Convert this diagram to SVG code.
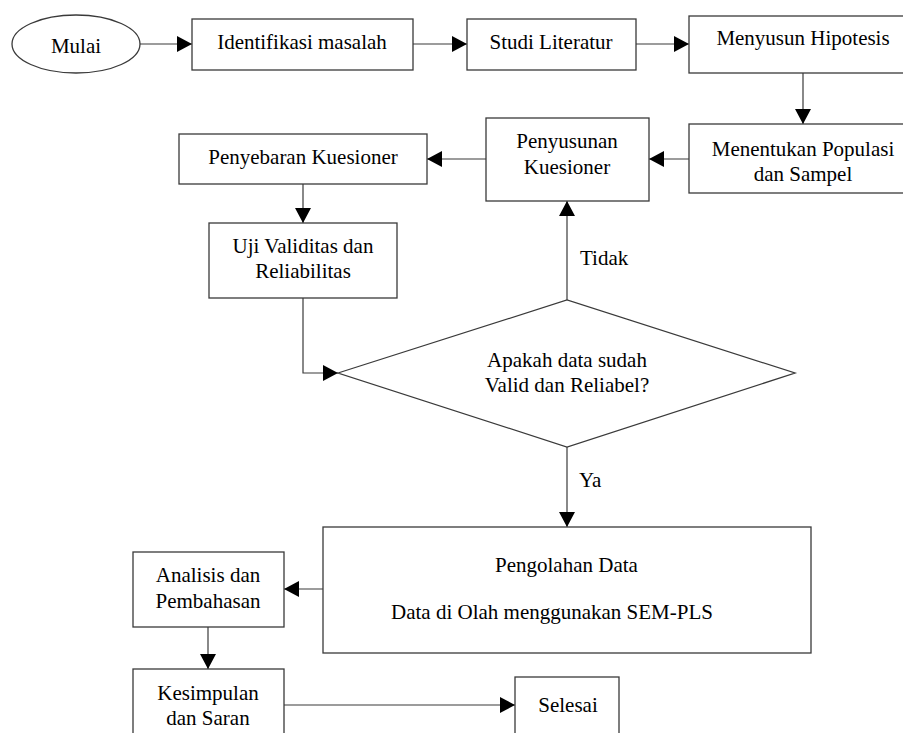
<svg xmlns="http://www.w3.org/2000/svg" width="903" height="733" viewBox="0 0 903 733">
<style>
.box{fill:#fff;stroke:#3a3a3a;stroke-width:1.3}
.t{font-family:'Liberation Serif','Times New Roman',Times,'DejaVu Serif',serif;font-size:21px;fill:#000}
.c{text-anchor:middle}
.ln{fill:none;stroke:#3a3a3a;stroke-width:1.2}
</style>
<defs>
<marker id="ah" markerUnits="userSpaceOnUse" markerWidth="16" markerHeight="16" refX="15" refY="8" orient="auto">
<path d="M0,0 L15,8 L0,16 z" fill="#000"/>
</marker>
</defs>
<rect width="903" height="733" fill="#fff"/>
<g font-family="Liberation Serif, Times New Roman, DejaVu Serif, serif">
<g id="connectors">
<line class="ln" x1="140" y1="44" x2="192" y2="44" marker-end="url(#ah)"/>
<line class="ln" x1="413" y1="44" x2="467" y2="44" marker-end="url(#ah)"/>
<line class="ln" x1="636" y1="44" x2="689" y2="44" marker-end="url(#ah)"/>
<line class="ln" x1="803" y1="73" x2="803" y2="124" marker-end="url(#ah)"/>
<line class="ln" x1="689" y1="159" x2="649" y2="159" marker-end="url(#ah)"/>
<line class="ln" x1="486" y1="159" x2="427" y2="159" marker-end="url(#ah)"/>
<line class="ln" x1="303" y1="184" x2="303" y2="223" marker-end="url(#ah)"/>
<polyline class="ln" points="303,298 303,373 338,373" marker-end="url(#ah)"/>
<line class="ln" x1="567" y1="300" x2="567" y2="201" marker-end="url(#ah)"/>
<line class="ln" x1="567" y1="447" x2="567" y2="527" marker-end="url(#ah)"/>
<line class="ln" x1="323" y1="589" x2="284" y2="589" marker-end="url(#ah)"/>
<line class="ln" x1="208" y1="627" x2="208" y2="669" marker-end="url(#ah)"/>
<line class="ln" x1="284" y1="705" x2="515" y2="705" marker-end="url(#ah)"/>
<text class="t" x="580" y="265">Tidak</text>
<text class="t" x="579" y="487">Ya</text>
</g>
<g id="mulai">
<ellipse class="box" cx="76" cy="44" rx="64" ry="29"/>
<text class="t c" x="76" y="53">Mulai</text>
</g>
<g id="identifikasi">
<rect class="box" x="192" y="19" width="221" height="51"/>
<text class="t c" x="302" y="49">Identifikasi masalah</text>
</g>
<g id="studi">
<rect class="box" x="467" y="19" width="169" height="51"/>
<text class="t c" x="551" y="49">Studi Literatur</text>
</g>
<g id="hipotesis">
<rect class="box" x="689" y="16" width="228" height="57"/>
<text class="t c" x="803" y="45">Menyusun Hipotesis</text>
</g>
<g id="populasi">
<rect class="box" x="689" y="124" width="228" height="69"/>
<text class="t c" x="803" y="156">Menentukan Populasi</text>
<text class="t c" x="803" y="181">dan Sampel</text>
</g>
<g id="penyusunan">
<rect class="box" x="486" y="118" width="163" height="83"/>
<text class="t c" x="567" y="148">Penyusunan</text>
<text class="t c" x="567" y="174">Kuesioner</text>
</g>
<g id="penyebaran">
<rect class="box" x="179" y="134" width="248" height="50"/>
<text class="t c" x="303" y="164">Penyebaran Kuesioner</text>
</g>
<g id="uji">
<rect class="box" x="209" y="223" width="188" height="75"/>
<text class="t c" x="303" y="253">Uji Validitas dan</text>
<text class="t c" x="303" y="278">Reliabilitas</text>
</g>
<g id="keputusan">
<polygon class="box" points="338,373 567,300 795,373 567,447"/>
<text class="t c" x="567" y="367">Apakah data sudah</text>
<text class="t c" x="567" y="392">Valid dan Reliabel?</text>
</g>
<g id="pengolahan">
<rect class="box" x="323" y="527" width="488" height="126"/>
<text class="t" x="495" y="572">Pengolahan Data</text>
<text class="t" x="391" y="619">Data di Olah menggunakan SEM-PLS</text>
</g>
<g id="analisis">
<rect class="box" x="133" y="552" width="151" height="75"/>
<text class="t c" x="208" y="582">Analisis dan</text>
<text class="t c" x="208" y="608">Pembahasan</text>
</g>
<g id="kesimpulan">
<rect class="box" x="133" y="669" width="151" height="80"/>
<text class="t c" x="208" y="700">Kesimpulan</text>
<text class="t c" x="208" y="725">dan Saran</text>
</g>
<g id="selesai">
<rect class="box" x="515" y="677" width="104" height="70"/>
<text class="t c" x="568" y="712">Selesai</text>
</g>
</g>
</svg>
